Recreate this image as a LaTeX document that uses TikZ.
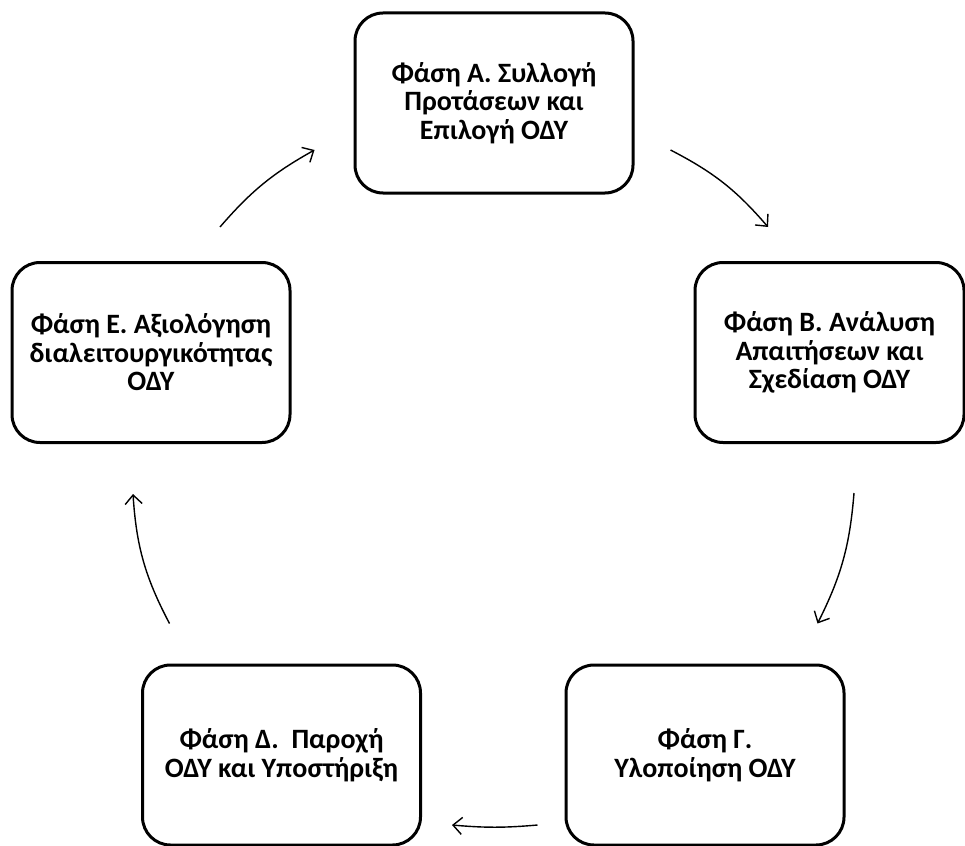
\documentclass[tikz,border=0pt]{standalone}
\usepackage{fontspec}
\setmainfont{Carlito}
\usetikzlibrary{arrows.meta}
\tikzset{
  phase/.style={draw,rectangle,rounded corners=28pt,line width=3pt,minimum width=278pt,minimum height=180pt,align=center,font=\bfseries\fontsize{28}{28.5}\selectfont},
  cyclearrow/.style={-{Straight Barb[length=9pt,width=17pt]},line width=1.4pt}
}
\begin{document}
\begin{tikzpicture}[x=1pt,y=-1pt]
  \useasboundingbox (0,0) rectangle (965,845);

  % phases
  \node[phase] (A) at (494,103) {Φάση Α. Συλλογή\\Προτάσεων και\\Επιλογή ΟΔΥ};
  \node[phase,minimum width=269pt] (B) at (829.5,352.5) {Φάση Β. Ανάλυση\\Απαιτήσεων και\\Σχεδίαση ΟΔΥ};
  \node[phase] (G) at (705,755) {Φάση Γ.\\Υλοποίηση ΟΔΥ};
  \node[phase] (D) at (281.5,755) {Φάση Δ.~~Παροχή\\ΟΔΥ και Υποστήριξη};
  \node[phase] (E) at (151,352.5) {Φάση Ε. Αξιολόγηση\\διαλειτουργικότητας\\ΟΔΥ};

  % cycle arrows
  \draw[cyclearrow] ([shift={(36,47)}]A.east) to[bend left=11] ([shift={(-61.5,-34)}]B.north);
  \draw[cyclearrow] ([shift={(24.5,49)}]B.south) to[bend left=11] ([shift={(-28,-40)}]G.north east);
  \draw[cyclearrow] ([shift={(-27,70)}]G.west) to[bend left=5] ([shift={(30,70)}]D.east);
  \draw[cyclearrow] ([shift={(28.5,-40)}]D.north west) to[bend left=12] ([shift={(-18,50)}]E.south);
  \draw[cyclearrow] ([shift={(69,-34)}]E.north) to[bend left=10] ([shift={(-39,47)}]A.west);
\end{tikzpicture}
\end{document}
